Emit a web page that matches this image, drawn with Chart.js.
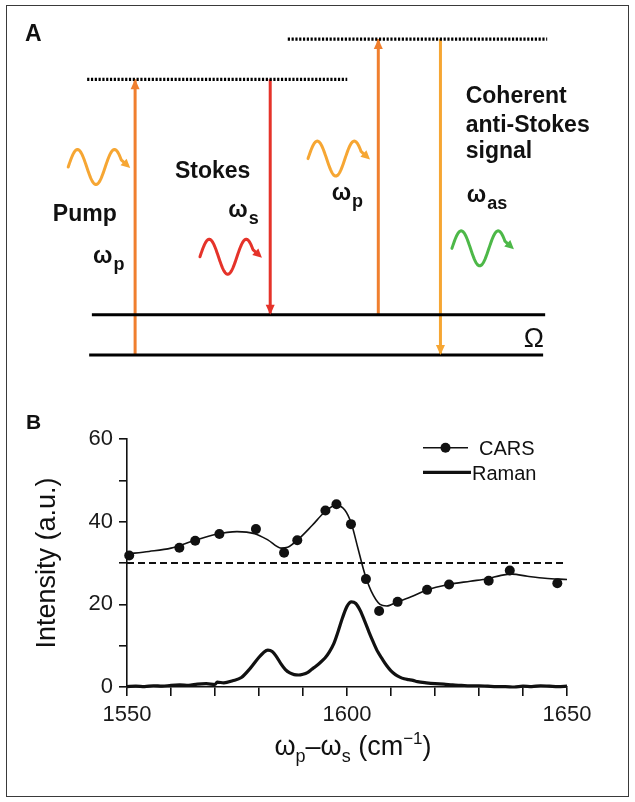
<!DOCTYPE html>
<html>
<head>
<meta charset="utf-8">
<script src="https://cdn.jsdelivr.net/npm/chart.js@4.4.1/dist/chart.umd.min.js"></script>
<style>
  html, body { margin: 0; padding: 0; background: #fff; }
  #page { position: relative; width: 635px; height: 802px; overflow: hidden; }
  canvas { position: absolute; left: 0; }
  #diagramA { top: 0; }
  #chartB { top: 400px; }
  #frame { position: absolute; left: 6px; top: 5px; width: 623px; height: 792px;
           box-sizing: border-box; border: 1.5px solid #3a3a3a; pointer-events: none; }
</style>
</head>
<body>
<div id="page">
  <canvas id="diagramA" width="635" height="400"></canvas>
  <canvas id="chartB" width="635" height="400"></canvas>
  <div id="frame"></div>
</div>
<script>
const FONT = "'Liberation Sans', Arial, sans-serif";
Chart.defaults.font.family = FONT;

// ---------- panel A : energy levels (units of the vibrational quantum) ----------
const OMEGA = 1;
const W_PUMP = 6.85;
const W_STOKES = W_PUMP - OMEGA;
const W_AS = W_PUMP + OMEGA;
const beamX = [1, 3, 4.6, 5.52];   // pump, Stokes, pump (probe), anti-Stokes columns

// ---------- panel B : spectra ----------
const carsX = [1550.5, 1561.9, 1565.5, 1571.0, 1579.3, 1585.7, 1588.7, 1595.1, 1597.6, 1600.9,
               1604.3, 1607.3, 1611.5, 1618.2, 1623.2, 1632.2, 1637.0, 1647.8];
const carsY = [31.8, 33.7, 35.4, 37.0, 38.2, 32.5, 35.5, 42.7, 44.2, 39.4,
               26.1, 18.4, 20.6, 23.5, 24.8, 25.7, 28.2, 25.1];

const fitX = [1550, 1555, 1560, 1565, 1570, 1575, 1579, 1582, 1585, 1586.5, 1589, 1592, 1595, 1597.5,
              1599.5, 1601, 1602.5, 1604, 1605.5, 1607.5, 1609, 1611.5, 1615, 1618, 1623, 1628, 1632,
              1635, 1637.5, 1641, 1645, 1650];
const fitY = [32.2, 32.8, 33.6, 35.3, 36.9, 37.6, 37.1, 35.6, 33.6, 33.8, 35.8, 39.0, 42.4, 44.0,
              42.8, 39.5, 33.5, 27.5, 23.2, 20.0, 19.6, 20.6, 22.0, 23.4, 24.8, 25.6, 26.2,
              27.0, 27.3, 26.8, 26.3, 26.0];

const ramanX = [1550, 1552, 1554, 1556, 1558, 1560, 1562, 1564, 1566, 1568, 1570, 1570.5, 1572, 1574,
                1576, 1578, 1580, 1581, 1582, 1583, 1584, 1585, 1586, 1587, 1588, 1589, 1590, 1591,
                1592, 1593, 1594, 1595, 1596, 1597, 1598, 1599, 1600, 1601, 1602, 1603, 1604, 1605,
                1606, 1607, 1608, 1609, 1610, 1611, 1612, 1613, 1614, 1615, 1616, 1618, 1620, 1622,
                1624, 1626, 1628, 1630, 1632, 1634, 1636, 1638, 1640, 1642, 1644, 1646, 1648, 1650];
const ramanY = [0.1, 0.2, 0.1, 0.3, 0.2, 0.4, 0.5, 0.4, 0.7, 0.8, 0.6, 1.2, 1.0, 1.5,
                2.3, 4.5, 7.2, 8.3, 8.9, 8.6, 7.3, 5.6, 4.2, 3.4, 3.0, 2.9, 3.1, 3.5,
                4.3, 5.1, 6.0, 7.0, 8.5, 10.5, 13.5, 16.8, 19.5, 20.6, 20.2, 18.5, 16.0, 13.3,
                10.8, 8.5, 6.8, 5.2, 3.9, 3.0, 2.4, 2.0, 1.8, 1.6, 1.3, 1.0, 0.8, 0.7,
                0.5, 0.4, 0.3, 0.3, 0.2, 0.1, 0.1, 0.0, 0.2, 0.1, 0.3, 0.2, 0.1, 0.2];

const nonResonant = 30;
const xTickLabels = [1550, 1600, 1650];
const yTickLabels = [0, 20, 40, 60];

const xy = (xs, ys) => xs.map((x, i) => ({ x, y: ys[i] }));
const seg = (x1, y1, x2, y2) => [{ x: x1, y: y1 }, { x: x2, y: y2 }];

// ---------------- panel A ----------------
const ORANGE = '#f07f2e', RED = '#e5332a', AMBER = '#f6a633', GREEN = '#4db848';

function drawWave(ctx, x0, y0, color) {
  const A = 17.5, P = 37;
  ctx.save();
  ctx.strokeStyle = color; ctx.fillStyle = color;
  ctx.lineWidth = 3; ctx.lineCap = 'round'; ctx.lineJoin = 'round';
  ctx.beginPath();
  for (let t = 0; t <= 53; t += 0.5) {
    const yy = y0 - A * Math.sin(2 * Math.PI * t / P);
    if (t === 0) ctx.moveTo(x0, yy); else ctx.lineTo(x0 + t, yy);
  }
  const ex = x0 + 53, ey = y0 - A * Math.sin(2 * Math.PI * 53 / P);
  const tx = x0 + 62, ty = y0 + 1;
  const ang = Math.atan2(ty - ey, tx - ex);
  ctx.lineTo(tx - 6 * Math.cos(ang), ty - 6 * Math.sin(ang));
  ctx.stroke();
  ctx.translate(tx, ty); ctx.rotate(ang);
  ctx.beginPath(); ctx.moveTo(0, 0); ctx.lineTo(-9, -4.5); ctx.lineTo(-9, 4.5); ctx.closePath(); ctx.fill();
  ctx.restore();
}

function omegaLabel(ctx, px, py, sub) {
  ctx.font = 'bold 23px ' + FONT;
  ctx.fillText('ω', px, py);
  const w = ctx.measureText('ω').width;
  ctx.font = 'bold 18px ' + FONT;
  ctx.fillText(sub, px + w + 1, py + 7);
}

const diagramDecor = {
  id: 'diagramDecor',
  afterDatasetsDraw(chart) {
    const { ctx, scales: { x, y } } = chart;
    const px = u => x.getPixelForValue(u), py = e => y.getPixelForValue(e);

    // arrow heads at the end of each transition
    chart.data.datasets.forEach((ds, i) => {
      if (!ds.arrow) return;
      const pts = chart.getDatasetMeta(i).data;
      const a = pts[0], b = pts[pts.length - 1];
      const ang = Math.atan2(b.y - a.y, b.x - a.x);
      ctx.save();
      ctx.translate(b.x, b.y); ctx.rotate(ang);
      ctx.fillStyle = ds.borderColor;
      ctx.beginPath(); ctx.moveTo(0, 0); ctx.lineTo(-10, -4.5); ctx.lineTo(-10, 4.5); ctx.closePath(); ctx.fill();
      ctx.restore();
    });

    // photons
    drawWave(ctx, px(0.01), py(4.67), AMBER);
    drawWave(ctx, px(1.96), py(2.44), RED);
    drawWave(ctx, px(3.56), py(4.88), AMBER);
    drawWave(ctx, px(5.69), py(2.65), GREEN);

    ctx.save();
    ctx.fillStyle = '#111';
    ctx.textBaseline = 'alphabetic';
    ctx.font = 'bold 23px ' + FONT;
    ctx.textAlign = 'left';
    ctx.fillText('A', 25, 41);
    ctx.textAlign = 'right';
    ctx.fillText('Pump', px(0.728), py(3.33));
    ctx.textAlign = 'left';
    ctx.fillText('Stokes', px(1.59), py(4.40));
    ctx.fillText('Coherent', px(5.894), py(6.26));
    ctx.fillText('anti-Stokes', px(5.894), py(5.53));
    ctx.fillText('signal', px(5.894), py(4.89));
    omegaLabel(ctx, px(0.377), py(2.29), 'p');
    omegaLabel(ctx, px(2.38), py(3.43), 's');
    omegaLabel(ctx, px(3.91), py(3.85), 'p');
    omegaLabel(ctx, px(5.91), py(3.81), 'as');
    ctx.font = '27px ' + FONT;
    ctx.textAlign = 'right';
    ctx.fillText('Ω', px(7.053), py(0.21));
    ctx.restore();
  }
};

new Chart(document.getElementById('diagramA'), {
  type: 'line',
  data: {
    datasets: [
      { data: seg(0.32, 0, 7.04, 0), borderColor: '#000', borderWidth: 3 },
      { data: seg(0.36, OMEGA, 7.07, OMEGA), borderColor: '#000', borderWidth: 3 },
      { data: seg(0.29, W_PUMP, 4.14, W_PUMP), borderColor: '#000', borderWidth: 3.2, borderDash: [2.2, 1.6] },
      { data: seg(3.26, OMEGA + W_PUMP, 7.1, OMEGA + W_PUMP), borderColor: '#000', borderWidth: 3.2, borderDash: [2.2, 1.6] },
      { data: seg(beamX[0], 0, beamX[0], W_PUMP), borderColor: ORANGE, borderWidth: 3, arrow: true },
      { data: seg(beamX[1], W_PUMP, beamX[1], W_PUMP - W_STOKES), borderColor: RED, borderWidth: 3, arrow: true },
      { data: seg(beamX[2], OMEGA, beamX[2], OMEGA + W_PUMP), borderColor: ORANGE, borderWidth: 3, arrow: true },
      { data: seg(beamX[3], OMEGA + W_PUMP, beamX[3], OMEGA + W_PUMP - W_AS), borderColor: AMBER, borderWidth: 3, arrow: true }
    ]
  },
  options: {
    responsive: false,
    animation: false,
    layout: { padding: 0 },
    elements: { point: { radius: 0 }, line: { tension: 0 } },
    plugins: { legend: { display: false }, tooltip: { enabled: false } },
    scales: {
      x: { type: 'linear', min: -1, max: 8.4, display: false },
      y: { type: 'linear', min: -1.118, max: 8.82, display: false }
    }
  },
  plugins: [diagramDecor]
});

// ---------------- panel B ----------------
const spectraDecor = {
  id: 'spectraDecor',
  afterDraw(chart) {
    const { ctx, chartArea } = chart;
    ctx.save();
    ctx.fillStyle = '#111';
    ctx.strokeStyle = '#111';
    ctx.font = 'bold 21px ' + FONT;
    ctx.textAlign = 'left';
    ctx.fillText('B', 26, 28.5);

    // legend
    ctx.lineWidth = 1.6;
    ctx.beginPath(); ctx.moveTo(423, 47.7); ctx.lineTo(468, 47.7); ctx.stroke();
    ctx.beginPath(); ctx.arc(445.5, 47.7, 5, 0, Math.PI * 2); ctx.fill();
    ctx.lineWidth = 3.2;
    ctx.beginPath(); ctx.moveTo(423, 72.3); ctx.lineTo(471, 72.3); ctx.stroke();
    ctx.font = '20px ' + FONT;
    ctx.fillText('CARS', 479, 55);
    ctx.fillText('Raman', 472, 80);

    // y title
    ctx.save();
    ctx.translate(48, (chartArea.top + chartArea.bottom) / 2);
    ctx.rotate(-Math.PI / 2);
    ctx.textAlign = 'center';
    ctx.textBaseline = 'middle';
    ctx.font = '27px ' + FONT;
    ctx.fillText('Intensity (a.u.)', 0, 0);
    ctx.restore();

    // x title with sub/superscripts
    const parts = [
      ['ω', 27, 0], ['p', 18, 7], ['–', 27, 0], ['ω', 27, 0], ['s', 18, 7],
      [' (cm', 27, 0], ['−1', 17, -11], [')', 27, 0]
    ];
    let total = 0;
    parts.forEach(p => { ctx.font = p[1] + 'px ' + FONT; total += ctx.measureText(p[0]).width; });
    let cx = (chartArea.left + chartArea.right) / 2 + 6 - total / 2;
    const base = 355;
    parts.forEach(p => {
      ctx.font = p[1] + 'px ' + FONT;
      ctx.fillText(p[0], cx, base + p[2]);
      cx += ctx.measureText(p[0]).width;
    });
    ctx.restore();
  }
};

const zeroPad = s => { s.paddingLeft = 0; s.paddingRight = 0; s.paddingTop = 0; s.paddingBottom = 0; };

new Chart(document.getElementById('chartB'), {
  type: 'line',
  data: {
    datasets: [
      { label: 'CARS', data: xy(carsX, carsY), showLine: false, pointRadius: 5,
        pointBackgroundColor: '#111', pointBorderWidth: 0, clip: false },
      { label: 'CARS fit', data: xy(fitX, fitY), borderColor: '#111', borderWidth: 1.6,
        pointRadius: 0, cubicInterpolationMode: 'monotone', clip: false },
      { label: 'Raman', data: xy(ramanX, ramanY), borderColor: '#111', borderWidth: 3.2,
        pointRadius: 0, cubicInterpolationMode: 'monotone', clip: false },
      { label: 'non-resonant', data: seg(1550, nonResonant, 1650, nonResonant), borderColor: '#111',
        borderWidth: 2, borderDash: [7, 4], pointRadius: 0, clip: false }
    ]
  },
  options: {
    responsive: false,
    animation: false,
    layout: { padding: { left: 0, right: 68, top: 39, bottom: 0 } },
    plugins: { legend: { display: false }, tooltip: { enabled: false } },
    scales: {
      x: {
        type: 'linear', min: 1550, max: 1650,
        ticks: { stepSize: 10, autoSkip: false, maxRotation: 0, padding: 6, color: '#1a1a1a',
                 font: { size: 22 }, callback: v => xTickLabels.includes(v) ? String(v) : '' },
        grid: { drawOnChartArea: false, color: '#111', lineWidth: 1.6, tickLength: 9 },
        border: { color: '#111', width: 1.6 },
        afterFit: s => { s.height = 113; zeroPad(s); }
      },
      y: {
        type: 'linear', min: 0, max: 60,
        ticks: { stepSize: 10, autoSkip: false, padding: 6, color: '#1a1a1a',
                 font: { size: 22 }, callback: v => yTickLabels.includes(v) ? String(v) : '' },
        grid: { drawOnChartArea: false, color: '#111', lineWidth: 1.6, tickLength: 8 },
        border: { color: '#111', width: 1.6 },
        afterFit: s => { s.width = 127; zeroPad(s); }
      }
    }
  },
  plugins: [spectraDecor]
});
</script>
</body>
</html>
